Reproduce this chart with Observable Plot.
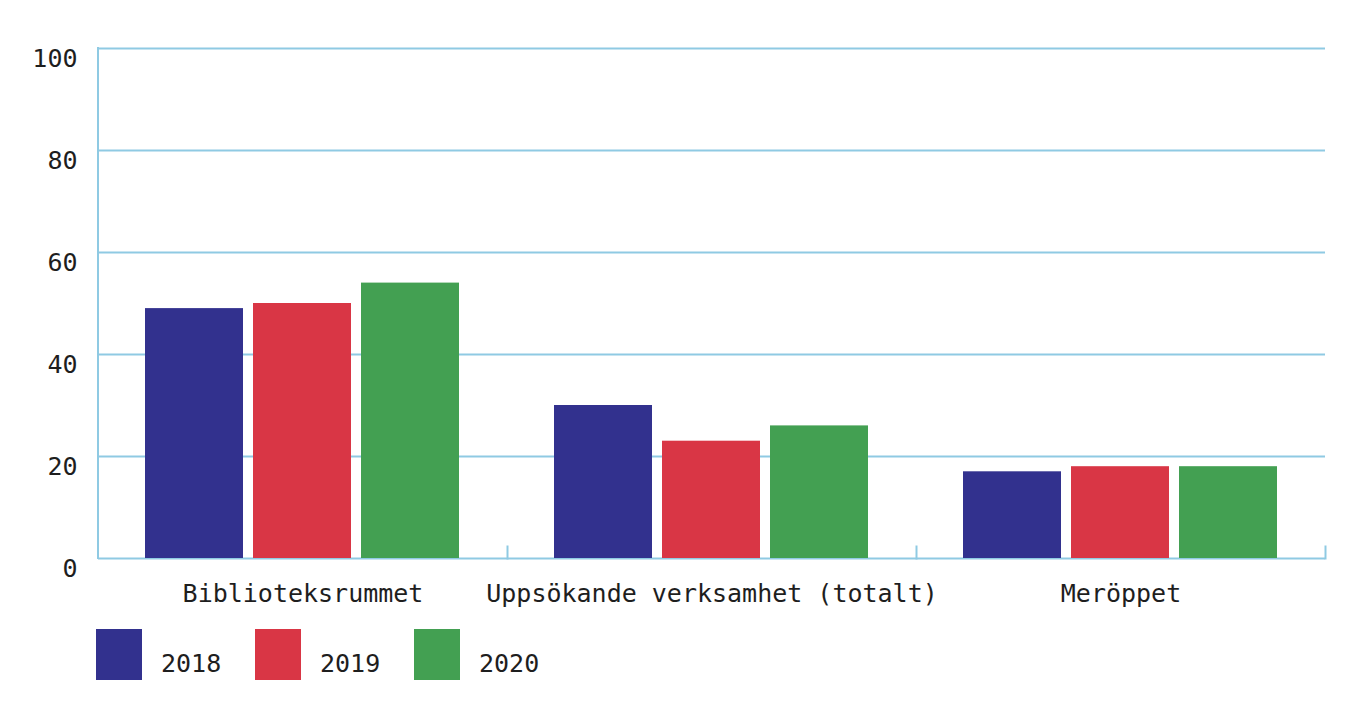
<!DOCTYPE html>
<html>
<head>
<meta charset="utf-8">
<script src="https://cdn.jsdelivr.net/npm/d3@7"></script>
<script src="https://cdn.jsdelivr.net/npm/@observablehq/plot@0.6"></script>
<style>
  html, body { margin: 0; padding: 0; background: #fff; }
  #wrap { position: relative; width: 1354px; height: 716px; font-family: "DejaVu Sans Mono", monospace; color: #1e1e1e; }
  #legend { position: absolute; left: 96px; top: 629px; display: flex; }
  .item { display: flex; width: 159px; }
  .sw { width: 46px; height: 51px; flex: none; }
  .lab { margin-left: 19px; font-size: 25px; line-height: 1; padding-top: 22px; }
</style>
</head>
<body>
<div id="wrap">
  <div id="chart"></div>
  <div id="legend"></div>
</div>
<script>
const categories = ["Biblioteksrummet", "Uppsökande verksamhet (totalt)", "Meröppet"];
const years = ["2018", "2019", "2020"];
const values2018 = [49, 30, 17];
const values2019 = [50, 23, 18];
const values2020 = [54, 26, 18];
const yTicks = [0, 20, 40, 60, 80, 100];
const colors = ["#32318e", "#d93645", "#43a052"];
const gridColor = "#8fcae3";

const series = [values2018, values2019, values2020];
const rows = [];
categories.forEach((c, i) => {
  years.forEach((y, j) => rows.push({category: c, year: y, value: series[j][i]}));
});

const plot = Plot.plot({
  width: 1354,
  height: 620,
  marginLeft: 97,
  marginRight: 29,
  marginTop: 48,
  marginBottom: 62,
  style: {fontFamily: "DejaVu Sans Mono, monospace", fontSize: "25px", color: "#1e1e1e", background: "#fff"},
  fx: {domain: categories, padding: 0, label: null, axis: null},
  x: {domain: years, paddingInner: 0.0917, paddingOuter: 0.422, axis: null},
  y: {domain: [0, 100], axis: null},
  color: {domain: years, range: colors},
  marks: [
    Plot.ruleY(yTicks, {stroke: gridColor, strokeWidth: 2}),
    Plot.frame({anchor: "right", insetTop: 498, stroke: gridColor, strokeWidth: 2}),
    Plot.barY(rows, {fx: "category", x: "year", y: "value", fill: "year"}),
    Plot.axisY({ticks: yTicks, tickSize: 0, tickPadding: 21, dy: 10, label: null, fill: "#1e1e1e", fontSize: 25}),
    Plot.axisFx({anchor: "bottom", tickSize: 0, tickPadding: 26, label: null, fill: "#1e1e1e", fontSize: 25})
  ]
});
document.getElementById("chart").appendChild(plot);

// left axis line drawn from the plot's own scales
const fxScale = plot.scale("fx");
const yScale = plot.scale("y");
const x0 = fxScale.apply(categories[0]);
d3.select(plot).append("line")
  .attr("x1", x0).attr("x2", x0)
  .attr("y1", yScale.apply(yTicks[0]) + 1).attr("y2", yScale.apply(yTicks[yTicks.length - 1]) - 1)
  .attr("stroke", gridColor).attr("stroke-width", 2);

const legend = document.getElementById("legend");
years.forEach((y, i) => {
  const item = document.createElement("div");
  item.className = "item";
  const sw = document.createElement("div");
  sw.className = "sw";
  sw.style.background = colors[i];
  const lab = document.createElement("div");
  lab.className = "lab";
  lab.textContent = y;
  item.appendChild(sw);
  item.appendChild(lab);
  legend.appendChild(item);
});
</script>
</body>
</html>
